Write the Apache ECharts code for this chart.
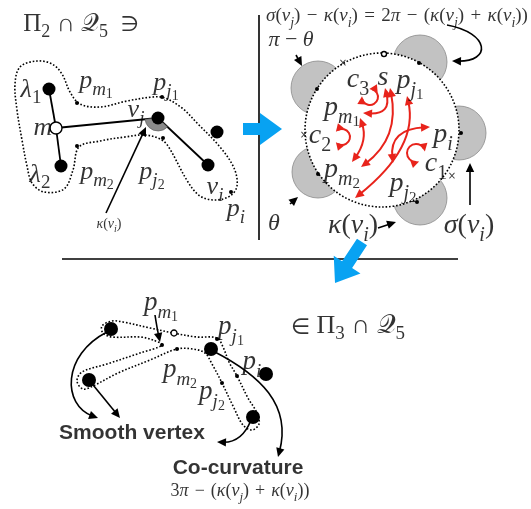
<!DOCTYPE html>
<html><head><meta charset="utf-8">
<script src="https://cdn.jsdelivr.net/npm/echarts@6/dist/echarts.min.js"></script>
<style>html,body{margin:0;padding:0;background:#fff}#c{width:531px;height:509px}</style>
</head><body><div id="c"></div>
<script>
// ================= DATA (diagram coordinates) =================
// top-left graph
const tlNodes = [[49,89],[61,166],[158,118],[208,165],[217,132]];
const tlHub = [[56,128]];
const tlEdges = [[[49,89],[56,128]],[[56,128],[61,166]],[[56,128],[158,118]],[[158,118],[208,165]]];
const tlWedge = [[158,118,208,165,56,128]];
const tlDots = [[77,103],[162,97],[77,146],[163,138],[231,192]];
const tlOutline = [[20,67],[37,61],[52,64],[62,74],[70,92],[80,104],[100,107],[127,101],[153,97],[165,98],[182,108],[198,124],[220,147],[234,168],[237,186],[230,196],[215,200],[200,196],[188,182],[168,146],[160,139],[145,135],[125,137],[100,141],[79,147],[73,170],[64,189],[44,192],[32,183],[27,166],[22,140],[17,110],[15,84]];
// right panel
const bigCircle = [[382,130,77]];
const grayDisks = [[318,88,27],[420,62,27],[459,133,27],[420,198,27],[318,172,26]];
const circleDots = [[317,89],[419,63],[461,133],[318,174],[417,202]];
const circleCross = [[343,63],[304,135],[452,176]];
const circleOpen = [[384,54]];
const redArrows = [
  [[385,88],[392,115],[363,113]],
  [[390,88],[400,138],[361,167]],
  [[407,96],[419,147],[355,198]],
  [[360,118],[368,140],[352,162]],
  [[430,127],[389,129],[393,163]]
];
const redLoops = [[370,97,8,225],[342,137,8,180],[416,153,9,30]];
// bottom panel
const btNodes = [[111,329],[89,380],[211,349],[266,374],[253,417]];
const btDots = [[162,345],[177,349],[217,339],[237,376],[222,383]];
const btOpen = [[174,333]];
const btOutline = [[112,321],[123,322],[150,328],[173,333],[197,337],[217,338],[223,347],[229,362],[237,376],[248,398],[257,413],[259,424],[252,430],[243,425],[234,408],[222,383],[212,364],[205,353],[193,349],[177,349],[150,360],[118,373],[93,386],[83,389],[77,381],[82,372],[107,364],[140,353],[162,345],[153,340],[140,337],[112,337],[103,333],[102,326]];
// black arrows
const blackArrows = [
  [[447,25],[490,33],[492,62],[452,61]],
  [[296,55],[302,66]],
  [[290,204],[298,197]],
  [[378,228],[396,222]],
  [[470,205],[470,163]],
  [[106,213],[146,127]],
  [[155,315],[157,328],[160,342]],
  [[107,332],[62,355],[62,405],[98,418]],
  [[89,380],[120,418]],
  [[251,420],[242,443],[217,442]],
  [[213,351],[260,375],[292,405],[278,457]]
];
const blueArrows = [[[243,129],[282,129]],[[362,242],[335,283]]];
const separators = [[[259,15],[259,240]],[[62,259],[458,259]]];
// texts
const SP = '\u2004';
const titleTexts = [[81,24,'{n|Π}{sn|2}{n| ∩ }{q|𝒬}{sn|5}{n|  }{m|∋}']];
const memberTexts = [[348,326,'{m|∈}{n| Π}{sn|3}{n| ∩ }{q|𝒬}{sn|5}']];
const tlTexts = [
  [31,90,'{b|λ}{sn|1}'],[43,128,'{b|m}'],[40,175,'{b|λ}{sn|2}'],
  [96,81,'{b|p}{s|m}{ss|1}'],[166,83,'{b|p}{s|j}{ss|1}'],[136,110,'{b|v}{s|j}'],
  [97,172,'{b|p}{s|m}{ss|2}'],[152,172,'{b|p}{s|j}{ss|2}'],[215,187,'{b|v}{s|i}'],[236,209,'{b|p}{s|i}']
];
const tlSmallTexts = [[109,224,'{b|κ}{n|(}{b|v}{s|i}{n|)}']];
const circleTexts = [
  [358,80,'{b|c}{sn|3}'],[383,78,'{b|s}'],[410,81,'{b|p}{s|j}{ss|1}'],
  [342,108,'{b|p}{s|m}{ss|1}'],[320,136,'{b|c}{sn|2}'],[443,135,'{b|p}{s|i}'],
  [436,164,'{b|c}{sn|1}'],[342,170,'{b|p}{s|m}{ss|2}'],[403,184,'{b|p}{s|j}{ss|2}']
];
const formulaTexts = [[397,16,'{b|σ}{n|(}{b|v}{s|j}{n|)'+SP+'−'+SP+'}{b|κ}{n|(}{b|v}{s|i}{n|)'+SP+'='+SP+'2}{b|π}{n|'+SP+'−'+SP+'(}{b|κ}{n|(}{b|v}{s|j}{n|)'+SP+'+'+SP+'}{b|κ}{n|(}{b|v}{s|i}{n|))}']];
const thetaTexts = [[291,40,'{b|π}{n| − }{b|θ}']];
const thetaBig = [[274,224,'{b|θ}']];
const kappaSigma = [[353,226,'{b|κ}{n|(}{b|v}{s|i}{n|)}'],[469,226,'{b|σ}{n|(}{b|v}{s|i}{n|)}']];
const btTexts = [
  [161,303,'{b|p}{s|m}{ss|1}'],[231,327,'{b|p}{s|j}{ss|1}'],[252,362,'{b|p}{s|i}'],
  [180,370,'{b|p}{s|m}{ss|2}'],[212,392,'{b|p}{s|j}{ss|2}']
];
const sansTexts = [[132,433,'Smooth vertex'],[238,468,'Co-curvature']];
const btFormula = [[240,491,'{n|3}{b|π}{n|'+SP+'−'+SP+'(}{b|κ}{n|(}{b|v}{s|j}{n|)'+SP+'+'+SP+'}{b|κ}{n|(}{b|v}{s|i}{n|))}']];

// ================= RENDER =================
const SERIF = '"Liberation Serif","Times New Roman",serif';
function rich(F){
  const sub = Math.round(F*0.72), ss = Math.round(F*0.52);
  const base = {fontFamily:SERIF, color:'#000', verticalAlign:'bottom'};
  const pb = Math.round(F*0.4);
  return {
    b:Object.assign({},base,{fontStyle:'italic',fontSize:F,lineHeight:F,padding:[0,0,pb,0]}),
    n:Object.assign({},base,{fontStyle:'normal',fontSize:F,lineHeight:F,padding:[0,0,pb,0]}),
    m:Object.assign({},base,{fontStyle:'normal',fontFamily:'"DejaVu Sans",sans-serif',fontWeight:'normal',fontSize:Math.round(F*0.85),lineHeight:F,padding:[0,0,pb,0]}),
    q:Object.assign({},base,{fontStyle:'normal',fontFamily:'"DejaVu Serif","DejaVu Sans",serif',fontSize:F,lineHeight:F,padding:[0,0,pb,0]}),
    s:Object.assign({},base,{fontStyle:'italic',fontSize:sub,lineHeight:sub,padding:[0,0,Math.round(F*0.18),0]}),
    sn:Object.assign({},base,{fontStyle:'normal',fontSize:sub,lineHeight:sub,padding:[0,0,Math.round(F*0.18),0]}),
    ss:Object.assign({},base,{fontStyle:'normal',fontSize:ss,lineHeight:ss,padding:[0,0,Math.round(F*0.1),0]})
  };
}
function textSeries(arr, F, extra){
  return Object.assign({
    type:'scatter', silent:true, z:20, symbolSize:1, itemStyle:{color:'rgba(0,0,0,0)'},
    data: arr.map(t=>({value:[t[0],t[1]], name:t[2]})),
    label:{show:true, position:'inside', align:'center', verticalAlign:'middle', offset:[0,Math.round(F*0.4)], formatter:p=>p.name, rich:rich(F)}
  }, extra||{});
}
function dotSeries(arr, size, color, border, z){
  return {type:'scatter', silent:true, z:z||8, symbol:'circle', symbolSize:size, data:arr,
    itemStyle:{color:color, borderColor:border||color, borderWidth:border?1.4:0, opacity:1}};
}
function headPoly(tip, from, L, W){
  const dx=tip[0]-from[0], dy=tip[1]-from[1], l=Math.hypot(dx,dy)||1, ux=dx/l, uy=dy/l;
  const bx=tip[0]-ux*L, by=tip[1]-uy*L;
  return [tip,[bx-uy*W,by+ux*W],[bx+uy*W,by-ux*W]];
}
function trim(a,b,d){const dx=a[0]-b[0],dy=a[1]-b[1],l=Math.hypot(dx,dy)||1;return [a[0]-dx/l*d,a[1]-dy/l*d];}
function arrowSeries(list, color, lw, L, W, both, z){
  return {type:'custom', silent:true, z:z||12, coordinateSystem:'cartesian2d',
    data:list.map(a=>a[0]),
    renderItem:function(params, api){
      const pts=list[params.dataIndex].map(p=>api.coord(p)); const n=pts.length;
      const e=trim(pts[n-1],pts[n-2],L*0.6); const s=both?trim(pts[0],pts[1],L*0.6):pts[0];
      const st={stroke:color,lineWidth:lw,fill:null};
      const ch=[];
      if(n===2) ch.push({type:'line',shape:{x1:s[0],y1:s[1],x2:e[0],y2:e[1]},style:st});
      else if(n===3) ch.push({type:'bezierCurve',shape:{x1:s[0],y1:s[1],cpx1:pts[1][0],cpy1:pts[1][1],x2:e[0],y2:e[1]},style:st});
      else ch.push({type:'bezierCurve',shape:{x1:s[0],y1:s[1],cpx1:pts[1][0],cpy1:pts[1][1],cpx2:pts[2][0],cpy2:pts[2][1],x2:e[0],y2:e[1]},style:st});
      ch.push({type:'polygon',shape:{points:headPoly(pts[n-1],pts[n-2],L,W)},style:{fill:color}});
      if(both) ch.push({type:'polygon',shape:{points:headPoly(pts[0],pts[1],L,W)},style:{fill:color}});
      return {type:'group',children:ch};
    }};
}
function loopSeries(list, color){
  return {type:'custom', silent:true, z:12, coordinateSystem:'cartesian2d',
    data:list.map(d=>[d[0],d[1]]),
    renderItem:function(params, api){
      const d=list[params.dataIndex]; const c=api.coord([d[0],d[1]]); const r=api.size([d[2],0])[0];
      const g=d[3]*Math.PI/180, h=40*Math.PI/180, t=0.35;
      const s=g+h, e=g+2*Math.PI-h;
      const pe=[c[0]+r*Math.cos(e),c[1]+r*Math.sin(e)], de=[-Math.sin(e),Math.cos(e)];
      const ps=[c[0]+r*Math.cos(s),c[1]+r*Math.sin(s)], ds=[Math.sin(s),-Math.cos(s)];
      return {type:'group',children:[
        {type:'arc',shape:{cx:c[0],cy:c[1],r:r,startAngle:s+t,endAngle:e-t,clockwise:true},style:{stroke:color,lineWidth:2,fill:null}},
        {type:'polygon',shape:{points:headPoly(pe,[pe[0]-de[0],pe[1]-de[1]],8,4)},style:{fill:color}},
        {type:'polygon',shape:{points:headPoly(ps,[ps[0]-ds[0],ps[1]-ds[1]],8,4)},style:{fill:color}}
      ]};
    }};
}
function circleSeries(list, fill, stroke, lw, dash, z){
  return {type:'custom', silent:true, z:z, coordinateSystem:'cartesian2d',
    data:list.map(d=>[d[0],d[1]]),
    renderItem:function(params, api){
      const d=list[params.dataIndex]; const c=api.coord([d[0],d[1]]); const r=api.size([d[2],0])[0];
      return {type:'circle',shape:{cx:c[0],cy:c[1],r:r},style:{fill:fill,stroke:stroke,lineWidth:lw,lineDash:dash}};
    }};
}
function outlineSeries(list){
  return {type:'custom', silent:true, z:4, coordinateSystem:'cartesian2d',
    data:list.map(o=>o[0]),
    renderItem:function(params, api){
      const pts=list[params.dataIndex].map(p=>api.coord(p));
      return {type:'polygon',shape:{points:pts,smooth:0.35},style:{fill:null,stroke:'#000',lineWidth:1.6,lineDash:[1.6,1.9]}};
    }};
}
const sansLabel = F => ({show:true,position:'inside',formatter:p=>p.name,fontSize:F,fontWeight:'bold',color:'#000',fontFamily:'"Liberation Sans",Arial,sans-serif'});
const option = {
  animation:false,
  grid:{left:0,right:0,top:0,bottom:0},
  xAxis:{type:'value',min:0,max:531,show:false},
  yAxis:{type:'value',min:0,max:509,inverse:true,show:false},
  series:[
    circleSeries(grayDisks,'#c2c2c2','#8a8a8a',0.8,null,1),
    circleSeries(bigCircle,'#ffffff','#000',1.6,[1.6,1.9],2),
    outlineSeries([tlOutline, btOutline]),
    {type:'lines',coordinateSystem:'cartesian2d',silent:true,z:3,data:separators.map(s=>({coords:s})),lineStyle:{color:'#000',width:1.6,opacity:1}},
    {type:'lines',coordinateSystem:'cartesian2d',silent:true,z:5,data:tlEdges.map(s=>({coords:s})),lineStyle:{color:'#000',width:1.8,opacity:1}},
    {type:'custom',silent:true,z:6,coordinateSystem:'cartesian2d',data:tlWedge.map(w=>[w[0],w[1]]),
      renderItem:function(params,api){
        const w=tlWedge[params.dataIndex]; const c=api.coord([w[0],w[1]]); const a=api.coord([w[2],w[3]]); const b=api.coord([w[4],w[5]]);
        const a1=Math.atan2(a[1]-c[1],a[0]-c[0]), a2=Math.atan2(b[1]-c[1],b[0]-c[0]);
        return {type:'sector',shape:{cx:c[0],cy:c[1],r0:0,r:api.size([13,0])[0],startAngle:a1,endAngle:a2,clockwise:true},style:{fill:'#8a8a8a',stroke:'#555',lineWidth:0.6}};
      }},
    dotSeries(tlNodes,13,'#000'),
    dotSeries(tlHub,12,'#fff','#000'),
    dotSeries(tlDots,4,'#000'),
    dotSeries(circleDots,4,'#000'),
    dotSeries(circleOpen,5,'#fff','#000'),
    dotSeries(btNodes,14,'#000'),
    dotSeries(btDots,4,'#000'),
    dotSeries(btOpen,6,'#fff','#000'),
    textSeries(circleCross.map(p=>[p[0],p[1],'×']),11,{label:{show:true,position:'inside',formatter:p=>p.name,fontSize:10,color:'#000',fontFamily:'DejaVu Sans'}}),
    arrowSeries(redArrows,'#e8231b',2,9,4.2,true,12),
    loopSeries(redLoops,'#e8231b'),
    arrowSeries(blackArrows,'#000',1.6,9,4.2,false,12),
    {type:'custom',silent:true,z:13,coordinateSystem:'cartesian2d',data:blueArrows.map(a=>a[0]),
      renderItem:function(params,api){
        const a=blueArrows[params.dataIndex]; const p0=api.coord(a[0]), p1=api.coord(a[1]);
        const dx=p1[0]-p0[0], dy=p1[1]-p0[1], l=Math.hypot(dx,dy), ux=dx/l, uy=dy/l, nx=-uy, ny=ux;
        const sw=6, hl=22, hw=16; const bx=p1[0]-ux*hl, by=p1[1]-uy*hl;
        const pts=[[p0[0]+nx*sw,p0[1]+ny*sw],[bx+nx*sw,by+ny*sw],[bx+nx*hw,by+ny*hw],p1,[bx-nx*hw,by-ny*hw],[bx-nx*sw,by-ny*sw],[p0[0]-nx*sw,p0[1]-ny*sw]];
        return {type:'polygon',shape:{points:pts},style:{fill:'#08a2f2'}};
      }},
    textSeries(titleTexts,25),
    textSeries(memberTexts,26),
    textSeries(tlTexts,26),
    textSeries(tlSmallTexts,14),
    textSeries(circleTexts,28),
    textSeries(formulaTexts,19),
    textSeries(thetaTexts,22),
    textSeries(thetaBig,24),
    textSeries(kappaSigma,28),
    textSeries(btTexts,27),
    textSeries(btFormula,18),
    textSeries(sansTexts,21,{label:sansLabel(21)})
  ]
};
const chart = echarts.init(document.getElementById('c'), null, {renderer:'canvas'});
chart.setOption(option);
</script></body></html>
